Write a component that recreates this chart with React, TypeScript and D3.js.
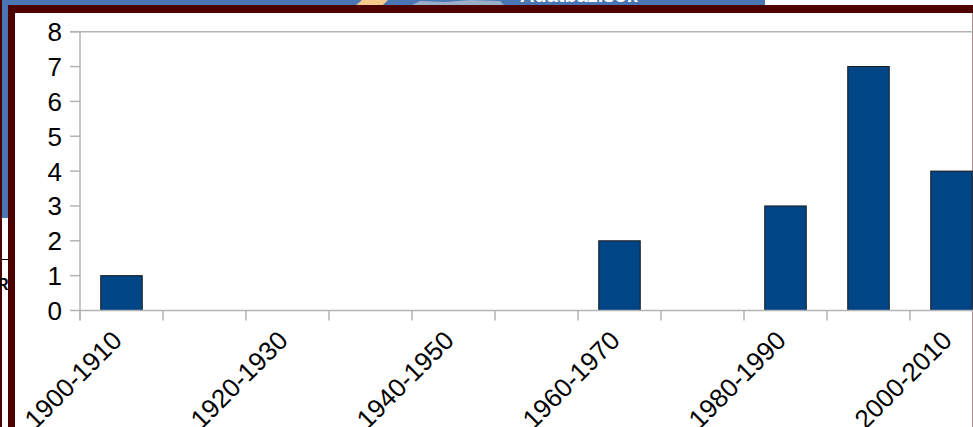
import React, { useEffect, useRef } from "react";
import * as d3 from "d3";

// decades on the x axis, count per decade
const decades = [
  "1900-1910", "1910-1920", "1920-1930", "1930-1940", "1940-1950", "1950-1960",
  "1960-1970", "1970-1980", "1980-1990", "1990-2000", "2000-2010",
];
const counts = [1, 0, 0, 0, 0, 0, 2, 0, 3, 7, 4];
const yTicks = [0, 1, 2, 3, 4, 5, 6, 7, 8];

const W = 973;
const H = 427;
const FONT = "'Liberation Sans', Arial, sans-serif";

const App: React.FC = () => {
  const svgRef = useRef<SVGSVGElement | null>(null);

  useEffect(() => {
    if (!svgRef.current) return;
    const svg = d3.select(svgRef.current);
    svg.selectAll("*").remove();

    // background behind the frame (screenshot leftovers)
    svg.append("rect").attr("width", W).attr("height", H).attr("fill", "#ffffff");
    svg.append("rect").attr("x", 0).attr("y", 0).attr("width", 765).attr("height", 6).attr("fill", "#4a76b4");
    svg.append("rect").attr("x", 2).attr("y", 0).attr("width", 6).attr("height", 218).attr("fill", "#4a76b4");
    svg.append("rect").attr("x", 0).attr("y", 0).attr("width", 2).attr("height", H).attr("fill", "#4d0000");
    svg.append("path").attr("d", "M355,6 L362,0 L388,0 L382,6 Z").attr("fill", "#f5c98a");
    svg.append("path").attr("d", "M410,6 L420,1 L445,2 L470,0 L500,1 L505,6 Z").attr("fill", "#9aaec8");
    svg.append("text").attr("x", 520).attr("y", 2).attr("fill", "#fff").attr("font-family", FONT)
      .attr("font-weight", "bold").attr("font-size", 20).text("Adatbázisok");
    svg.append("line").attr("x1", 2).attr("x2", 8).attr("y1", 259.5).attr("y2", 259.5).attr("stroke", "#000");
    svg.append("text").attr("x", -3).attr("y", 290).attr("font-family", FONT).attr("font-weight", "bold")
      .attr("font-size", 16).text("R");

    // maroon frame
    svg.append("rect").attr("x", 8).attr("y", 5).attr("width", W).attr("height", H).attr("fill", "#4d0000");
    svg.append("rect").attr("x", 15).attr("y", 13).attr("width", W).attr("height", H).attr("fill", "#ffffff");
    svg.append("line").attr("x1", 972.5).attr("x2", 972.5).attr("y1", 13).attr("y2", H)
      .attr("stroke", "#b08c8c").attr("stroke-width", 1);

    const band = 83;
    const x0 = 80;
    const x = d3.scaleBand<string>().domain(decades).range([x0, x0 + band * decades.length]).padding(0);
    const y = d3.scaleLinear().domain([0, 8]).range([310.5, 31.7]);

    const g = svg.append("g");
    const axisColor = "#b3b3b3";

    // top border line at max
    g.append("line").attr("x1", 70).attr("x2", W).attr("y1", y(8)).attr("y2", y(8))
      .attr("stroke", axisColor).attr("stroke-width", 1.5);

    // y axis
    g.append("line").attr("x1", x0).attr("x2", x0).attr("y1", y(8)).attr("y2", y(0) + 10)
      .attr("stroke", axisColor).attr("stroke-width", 1.5);
    g.selectAll(".ytick").data(yTicks).enter().append("line")
      .attr("x1", 70).attr("x2", x0).attr("y1", (d) => y(d)).attr("y2", (d) => y(d))
      .attr("stroke", axisColor).attr("stroke-width", 1.5);
    g.selectAll(".ylab").data(yTicks).enter().append("text")
      .attr("x", 62).attr("y", (d) => y(d) + 9.5)
      .attr("text-anchor", "end").attr("font-family", FONT).attr("font-size", 26).attr("fill", "#000")
      .text((d) => d);

    // bars
    g.selectAll(".bar").data(decades).enter().append("rect")
      .attr("x", (d) => x(d)! + x.bandwidth() / 4)
      .attr("width", x.bandwidth() / 2)
      .attr("y", (d, i) => y(counts[i]))
      .attr("height", (d, i) => y(0) - y(counts[i]))
      .attr("fill", "#004586")
      .attr("stroke", "#1a1a1a")
      .attr("stroke-width", 1)
      .attr("display", (d, i) => (counts[i] > 0 ? null : "none"));

    // x axis
    g.append("line").attr("x1", x0).attr("x2", W).attr("y1", y(0)).attr("y2", y(0))
      .attr("stroke", axisColor).attr("stroke-width", 1.5);
    const edges = decades.map((d) => x(d)!).concat([x0 + band * decades.length]);
    g.selectAll(".xtick").data(edges).enter().append("line")
      .attr("x1", (d) => d).attr("x2", (d) => d).attr("y1", y(0)).attr("y2", y(0) + 10)
      .attr("stroke", axisColor).attr("stroke-width", 1.5);
    g.selectAll(".xlab").data(decades.filter((d, i) => i % 2 === 0)).enter().append("text")
      .attr("transform", (d) => `translate(${x(d)! + x.bandwidth() / 2 + 2},${342}) rotate(-45)`)
      .attr("text-anchor", "end").attr("font-family", FONT).attr("font-size", 26).attr("fill", "#000")
      .text((d) => d);
  }, []);

  return (
    <svg
      ref={svgRef}
      width={W}
      height={H}
      style={{ position: "absolute", left: 0, top: 0, display: "block" }}
    />
  );
};

export default App;
